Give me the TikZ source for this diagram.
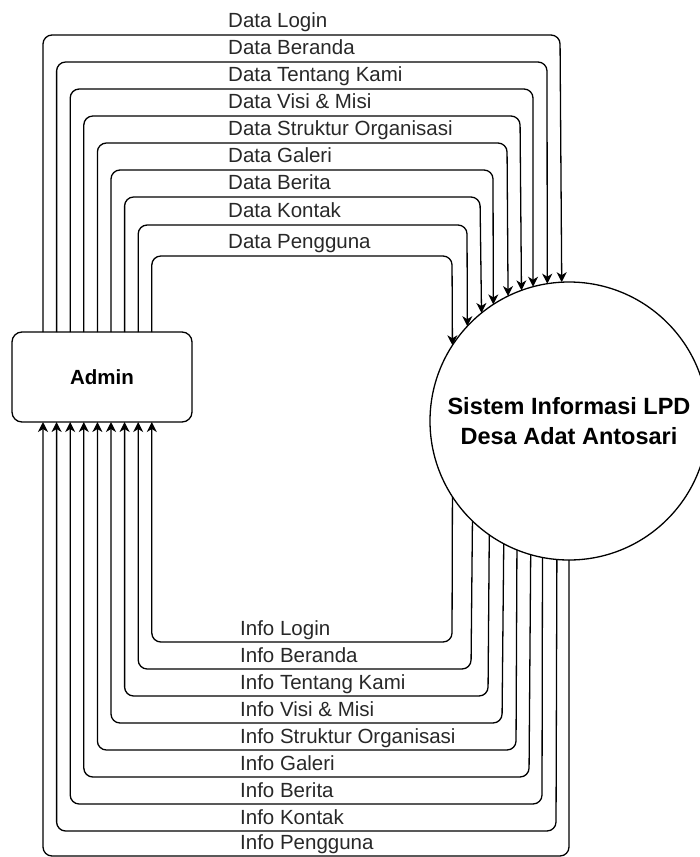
\documentclass[tikz,border=0pt]{standalone}
\usepackage{fontspec}
\setmainfont{Liberation Sans}
\usetikzlibrary{arrows.meta}
\definecolor{txtgray}{RGB}{40,40,40}
\tikzset{
  flow/.style={line width=1.3pt, draw=black, rounded corners=9pt},
  tip/.style={-{Stealth[length=10pt,width=10pt,inset=3pt]}},
  lbl/.style={anchor=base west, inner sep=0pt, text=txtgray, font=\fontsize{20.5}{24}\selectfont},
  ent/.style={draw=black, line width=1.3pt, rounded corners=10pt, minimum width=180pt, minimum height=90pt, inner sep=0pt, outer sep=0pt, font=\fontsize{20.5}{24}\selectfont\bfseries},
  proc/.style={draw=black, line width=1.3pt, circle, minimum size=278pt, inner sep=0pt, outer sep=0pt, align=center, font=\fontsize{23.5}{30}\selectfont\bfseries}
}
\begin{document}
\begin{tikzpicture}[x=1pt,y=-1pt]
\useasboundingbox (0,0) rectangle (699,857);
\node[ent] (admin) at (102,377) {Admin};
\node[proc] (sys) at (569,421) {Sistem Informasi LPD\\Desa Adat Antosari};
\foreach \i/\xl/\yt/\xr/\lab in {1/43/35/560/Data Login, 2/56.6/62/547/Data Beranda, 3/70.2/89/533/Data Tentang Kami, 4/83.8/116/520/Data Visi \& Misi, 5/97.4/143/507/Data Struktur Organisasi, 6/111/170/493/Data Galeri, 7/124.6/197/480/Data Berita, 8/138.2/225/467/Data Kontak, 9/151.8/256/452/Data Pengguna}{
  \pgfmathsetmacro\ang{acos((\xr-569)/139)}
  \coordinate (dt\i) at (\xl,\yt);
  \coordinate (dr\i) at (\xr,\yt);
  \draw[flow,tip] (dt\i |- admin.north) -- (dt\i) -- (dr\i) -- (sys.\ang);
  \node[lbl] (dl\i) at (228,\yt-8) {\lab};
}
\foreach \i/\xr/\yb/\xl/\lab in {1/452/642/151.8/Info Login, 2/471/669/138.2/Info Beranda, 3/488/696/124.6/Info Tentang Kami, 4/502/723/111/Info Visi \& Misi, 5/516/750/97.4/Info Struktur Organisasi, 6/529/777/83.8/Info Galeri, 7/542/804/70.2/Info Berita, 8/556/831/56.6/Info Kontak, 9/569/856/43/Info Pengguna}{
  \pgfmathsetmacro\ang{-acos((\xr-569)/139)}
  \coordinate (br\i) at (\xr,\yb);
  \coordinate (bl\i) at (\xl,\yb);
  \draw[flow,tip] (sys.\ang) -- (br\i) -- (bl\i) -- (bl\i |- admin.south);
  \node[lbl] (il\i) at (240,\yb-7) {\lab};
}
\end{tikzpicture}
\end{document}
